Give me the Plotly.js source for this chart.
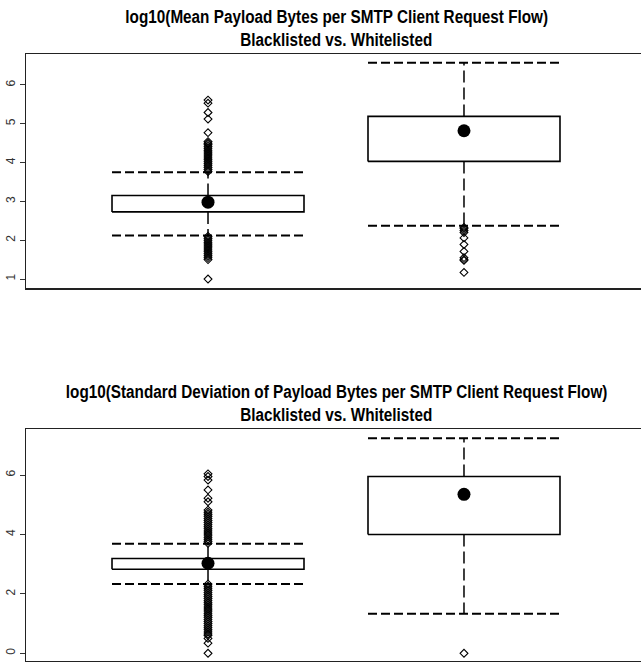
<!DOCTYPE html>
<html>
<head>
<meta charset="utf-8">
<script src="https://cdn.plot.ly/plotly-3.0.1.min.js"></script>
<style>
html,body{margin:0;padding:0;background:#fff;overflow:hidden;}
#chart{width:650px;height:662px;}
</style>
</head>
<body>
<div id="chart"></div>
<script>
// ---------- data ----------
const categories = ["Blacklisted", "Whitelisted"];
const catPos = [1, 2];

const titleMean = ["log10(Mean Payload Bytes per SMTP Client Request Flow)", "Blacklisted vs. Whitelisted"];
const titleSd = ["log10(Standard Deviation of Payload Bytes per SMTP Client Request Flow)", "Blacklisted vs. Whitelisted"];

// Panel 1: log10(mean payload bytes)
const meanLowerWhisker = [2.12, 2.37];
const meanQ1 = [2.73, 4.03];
const meanMedian = [2.98, 4.82];
const meanQ3 = [3.15, 5.19];
const meanUpperWhisker = [3.75, 6.57];
const meanOutliersBlack = [
  1.0, 1.5, 1.55, 1.6, 1.65, 1.7, 1.75, 1.8, 1.85, 1.9, 1.95, 2.0, 2.05, 2.1,
  3.77, 3.82, 3.87, 3.92, 3.97, 4.02, 4.07, 4.12, 4.17, 4.22, 4.27, 4.32, 4.37, 4.42, 4.47, 4.5,
  4.54, 4.77, 5.12, 5.29, 5.53, 5.61
];
const meanOutliersWhite = [1.17, 1.48, 1.5, 1.55, 1.71, 1.89, 2.06, 2.2, 2.25, 2.3, 2.33];
const meanTicks = [1, 2, 3, 4, 5, 6];

// Panel 2: log10(std dev of payload bytes)
const sdLowerWhisker = [2.33, 1.33];
const sdQ1 = [2.83, 4.0];
const sdMedian = [3.03, 5.35];
const sdQ3 = [3.19, 5.95];
const sdUpperWhisker = [3.69, 7.24];
const sdOutliersBlack = [
  0.0, 0.34, 0.5, 0.6, 0.65, 0.72, 0.79, 0.86, 0.93, 1.0, 1.07, 1.14, 1.21, 1.28, 1.35, 1.42,
  1.49, 1.56, 1.63, 1.7, 1.77, 1.84, 1.91, 1.98, 2.05, 2.12, 2.19, 2.26, 2.33,
  3.7, 3.77, 3.84, 3.91, 3.98, 4.05, 4.12, 4.19, 4.26, 4.33, 4.4, 4.47, 4.54, 4.61, 4.68, 4.75, 4.82,
  5.1, 5.22, 5.5, 5.83, 5.95, 6.04
];
const sdOutliersWhite = [0.0];
const sdTicks = [0, 2, 4, 6];

// ---------- drawing ----------
const HALF = 0.375;
const LINE = 'black';
const traces = [];

function addPanel(xa, ya, lw, q1, med, q3, uw, outs) {
  for (let i = 0; i < catPos.length; i++) {
    const c = catPos[i];
    traces.push({type:'scatter', mode:'lines', xaxis:xa, yaxis:ya, hoverinfo:'skip',
      x:[c-HALF, c+HALF, c+HALF, c-HALF, c-HALF],
      y:[q1[i], q1[i], q3[i], q3[i], q1[i]],
      line:{color:LINE, width:1.6}});
    traces.push({type:'scatter', mode:'lines', xaxis:xa, yaxis:ya, hoverinfo:'skip',
      x:[c, c, null, c, c], y:[q3[i], uw[i], null, q1[i], lw[i]],
      line:{color:LINE, width:1.5, dash:'12px,5px'}});
    traces.push({type:'scatter', mode:'lines', xaxis:xa, yaxis:ya, hoverinfo:'skip',
      x:[c-HALF, c+HALF, null, c-HALF, c+HALF], y:[uw[i], uw[i], null, lw[i], lw[i]],
      line:{color:LINE, width:2, dash:'9px,4px'}});
    traces.push({type:'scatter', mode:'markers', xaxis:xa, yaxis:ya, hoverinfo:'skip',
      x:outs[i].map(() => c), y:outs[i],
      marker:{symbol:'diamond-open', size:6, color:LINE, line:{width:1.1, color:LINE}}});
  }
  traces.push({type:'scatter', mode:'markers', xaxis:xa, yaxis:ya, hoverinfo:'skip',
    x:catPos, y:med, marker:{symbol:'circle', size:13, color:LINE}});
}

addPanel('x', 'y', meanLowerWhisker, meanQ1, meanMedian, meanQ3, meanUpperWhisker,
         [meanOutliersBlack, meanOutliersWhite]);
addPanel('x2', 'y2', sdLowerWhisker, sdQ1, sdMedian, sdQ3, sdUpperWhisker,
         [sdOutliersBlack, sdOutliersWhite]);

const H = 662;
const axisX = {range:[0.289, 2.711], showticklabels:false, ticks:'', showgrid:false,
  zeroline:false, showline:true, mirror:true, linecolor:'#222', linewidth:1.5};
const axisY = {showgrid:false, zeroline:false, showline:true, mirror:false,
  linecolor:'#222', linewidth:1.5, ticks:'outside', ticklen:5, tickwidth:1, tickcolor:'#333',
  tickangle:-90, tickfont:{family:'Liberation Sans, Arial, sans-serif', size:12, color:'#333'}};

const titleFont = {family:'Liberation Sans, Arial, sans-serif', size:19, color:'#000', weight:'bold'};
function titleAnn(text, ypx) {
  return {text:text, xref:'paper', yref:'paper', x:0.5, y:1-ypx/H, xanchor:'center', yanchor:'middle',
    showarrow:false, font:titleFont};
}

const layout = {
  width:650, height:H,
  margin:{l:26, r:4, t:0, b:0},
  paper_bgcolor:'white', plot_bgcolor:'white',
  showlegend:false,
  xaxis:Object.assign({}, axisX, {anchor:'y'}),
  yaxis:Object.assign({}, axisY, {anchor:'x', domain:[(H-288)/H, (H-54)/H],
    range:[0.769, 6.797], tickvals:meanTicks, ticktext:meanTicks.map(String)}),
  xaxis2:Object.assign({}, axisX, {anchor:'y2'}),
  yaxis2:Object.assign({}, axisY, {anchor:'x2', domain:[(H-661)/H, (H-429.3)/H],
    range:[-0.26, 7.54], tickvals:sdTicks, ticktext:sdTicks.map(String)}),
  annotations:[
    titleAnn(titleMean[0], 16), titleAnn(titleMean[1], 39),
    titleAnn(titleSd[0], 392), titleAnn(titleSd[1], 414)
  ]
};

Plotly.newPlot('chart', traces, layout, {staticPlot:true, displayModeBar:false}).then(function () {
  // condense the title text horizontally, as in the reference
  const texts = document.querySelectorAll('#chart .annotation-text');
  if (!texts.length) return;
  const w0 = texts[0].getBBox().width;
  const S = w0 > 0 ? 423 / w0 : 0.7;
  texts.forEach(function (t) {
    const bb = t.getBBox();
    const cx = bb.x + bb.width / 2;
    const prev = t.getAttribute('transform') || '';
    t.setAttribute('transform', prev + ' translate(' + cx + ',0) scale(' + S + ',1) translate(' + (-cx) + ',0)');
  });
});
</script>
</body>
</html>
